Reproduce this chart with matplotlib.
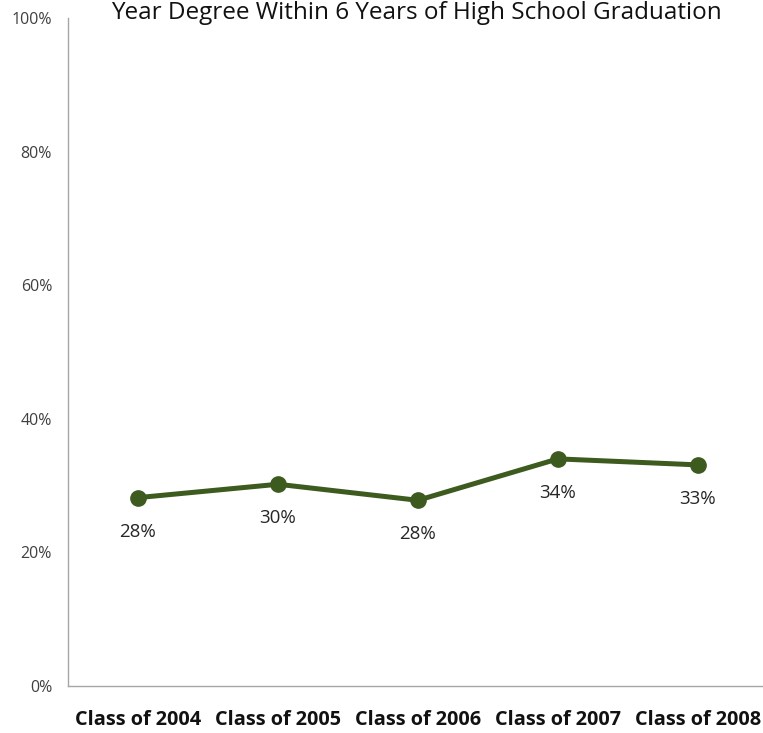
import numpy as np
import matplotlib.pyplot as plt
from matplotlib.ticker import PercentFormatter

classes = ["Class of 2004", "Class of 2005", "Class of 2006", "Class of 2007", "Class of 2008"]
rates = [28.2, 30.2, 27.8, 34.0, 33.1]
labels = ["28%", "30%", "28%", "34%", "33%"]

plt.rcParams['font.family'] = ['Open Sans', 'DejaVu Sans']

fig = plt.figure(figsize=(7.63, 7.33), dpi=100)
ax = fig.add_axes([68 / 763, 1 - 686 / 733, 695 / 763, 668 / 733])

x = np.arange(len(classes))
ax.plot(x, rates, color="#3d5a1f", linewidth=3.6, marker="o", markersize=11,
        solid_capstyle="round")
for xi, yi, lab in zip(x, rates, labels):
    ax.annotate(lab, (xi, yi), xytext=(0, -34), textcoords="offset pixels",
                ha="center", va="center", fontsize=13.5, color="#262626")

ax.set_ylim(0, 100)
ax.set_xlim(-0.5, 4.465)
ax.set_yticks([0, 20, 40, 60, 80, 100])
ax.yaxis.set_major_formatter(PercentFormatter(decimals=0))
ax.set_xticks(x)
ax.set_xticklabels(classes, fontsize=14.3, fontweight="bold", color="#111111")
ax.tick_params(axis="y", length=0, pad=11.5, labelsize=11.5, labelcolor="#404040")
ax.tick_params(axis="x", length=0, pad=17)

for s in ["top", "right"]:
    ax.spines[s].set_visible(False)
for s in ["left", "bottom"]:
    ax.spines[s].set_color("#a6a6a6")
    ax.spines[s].set_linewidth(1)

fig.text(416 / 763, 1 - 1 / 733, "Year Degree Within 6 Years of High School Graduation",
         ha="center", va="top", fontsize=17.5, color="#111111")

fig.savefig("out.png", dpi=100)
